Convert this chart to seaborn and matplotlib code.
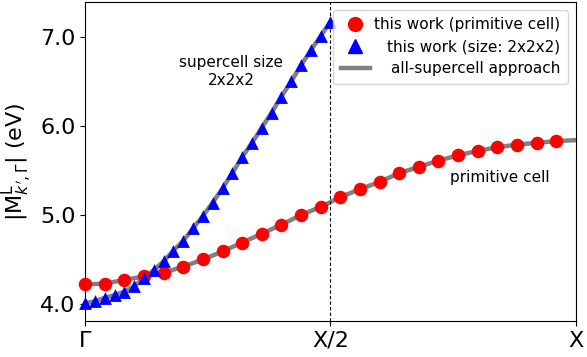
import numpy as np
import pandas as pd
import matplotlib
matplotlib.use("Agg")
import matplotlib.pyplot as plt
from matplotlib.lines import Line2D
import seaborn as sns

# primitive cell results, k from Gamma to X (25 steps)
prim_k = [i / 25 for i in range(25)]
prim_e = [4.22, 4.23, 4.27, 4.31, 4.35, 4.42, 4.50, 4.59, 4.69, 4.79,
          4.89, 5.00, 5.09, 5.20, 5.29, 5.37, 5.47, 5.54, 5.61, 5.67,
          5.72, 5.76, 5.79, 5.81, 5.83]

# 2x2x2 supercell results, k from Gamma to X/2 (50 steps over full path)
sc_k = [i / 50 for i in range(26)]
sc_e = [4.01, 4.03, 4.07, 4.10, 4.14, 4.20, 4.29, 4.38, 4.48, 4.60,
        4.71, 4.85, 4.99, 5.14, 5.30, 5.47, 5.65, 5.81, 5.98, 6.15,
        6.33, 6.50, 6.68, 6.85, 7.01, 7.17]

# all-supercell reference curve end point at X
ref_end_k = 1.0
ref_end_e = 5.84

tick_pos = [0, 0.5, 1.0]
tick_labels = ["Γ", "X/2", "X"]

df_prim = pd.DataFrame({"k": prim_k, "E": prim_e})
df_sc = pd.DataFrame({"k": sc_k, "E": sc_e})
df_ref_prim = pd.DataFrame({"k": prim_k + [ref_end_k], "E": prim_e + [ref_end_e]})

fig = plt.figure(figsize=(5.87, 3.57), dpi=100)
ax = fig.add_axes([0.145, 0.101, 0.836, 0.893])

# grey reference lines
sns.lineplot(data=df_ref_prim, x="k", y="E", ax=ax, color="gray", lw=3.2, zorder=1)
sns.lineplot(data=df_sc, x="k", y="E", ax=ax, color="gray", lw=3.2, zorder=1)

# markers
sns.scatterplot(data=df_prim, x="k", y="E", ax=ax, color="red", marker="o",
                s=95, linewidth=0, zorder=3, clip_on=False)
sns.scatterplot(data=df_sc, x="k", y="E", ax=ax, color="blue", marker="^",
                s=85, linewidth=0, zorder=3, clip_on=False)

ax.axvline(0.5, color="black", ls="--", lw=0.8, dashes=(3, 2))

ax.set_xlim(0, 1)
ax.set_ylim(3.81, 7.39)
ax.set_xticks(tick_pos)
ax.set_xticklabels(tick_labels)
ax.set_yticks([4.0, 5.0, 6.0, 7.0])
ax.set_yticklabels(["4.0", "5.0", "6.0", "7.0"])
ax.tick_params(labelsize=16)
ax.set_xlabel("")
ax.set_ylabel(r"|M$^{\mathrm{L}}_{k',\Gamma}$| (eV)", fontsize=16)

ax.text(0.297, 6.61, "supercell size\n2x2x2", fontsize=11, ha="center", va="center")
ax.text(0.845, 5.42, "primitive cell", fontsize=11, ha="center", va="center")

handles = [
    Line2D([], [], color="red", marker="o", ls="none", markersize=10),
    Line2D([], [], color="blue", marker="^", ls="none", markersize=10),
    Line2D([], [], color="gray", lw=3.2),
]
labels = ["this work (primitive cell)", "this work (size: 2x2x2)", "all-supercell approach"]
leg = ax.legend(handles, labels, loc="upper right", fontsize=11,
                handlelength=1.9, handletextpad=0.3, labelspacing=0.45,
                borderaxespad=0.5, borderpad=0.5)

# right-align legend texts
fig.canvas.draw()
renderer = fig.canvas.get_renderer()
widths = [t.get_window_extent(renderer).width for t in leg.get_texts()]
maxw = max(widths)
for t, w in zip(leg.get_texts(), widths):
    t.set_x(maxw - w)

fig.savefig("out.png", dpi=100)
